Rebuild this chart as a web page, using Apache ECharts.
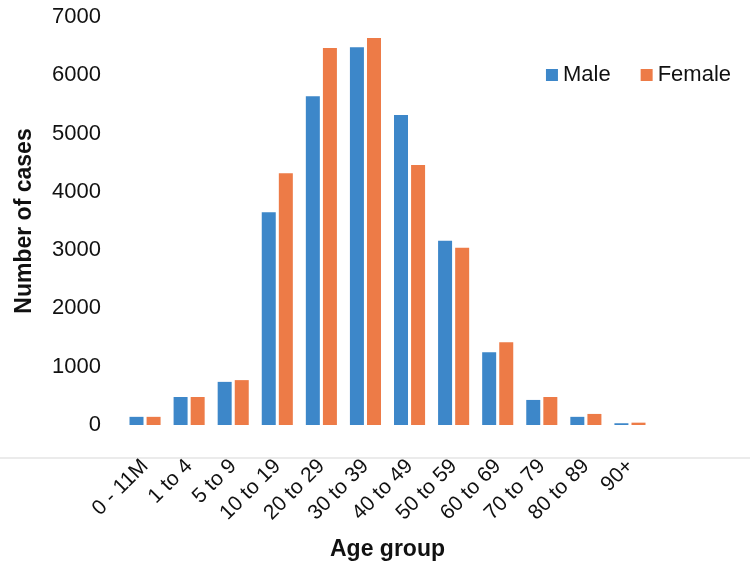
<!DOCTYPE html>
<html>
<head>
<meta charset="utf-8">
<script src="https://cdn.jsdelivr.net/npm/echarts@6/dist/echarts.min.js"></script>
<style>
html,body{margin:0;padding:0;background:#fff;}
#chart{width:750px;height:566px;}
</style>
</head>
<body>
<div id="chart"></div>
<script>
const categories = ["0 - 11M", "1 to 4", "5 to 9", "10 to 19", "20 to 29", "30 to 39", "40 to 49", "50 to 59", "60 to 69", "70 to 79", "80 to 89", "90+"];
const maleValues = [140, 480, 740, 3650, 5640, 6480, 5320, 3160, 1250, 430, 140, 30];
const femaleValues = [140, 480, 770, 4320, 6470, 6640, 4460, 3040, 1420, 480, 190, 40];
const yTicks = [0, 1000, 2000, 3000, 4000, 5000, 6000, 7000];

const font = "Liberation Sans, Arial, sans-serif";
const chart = echarts.init(document.getElementById('chart'));
chart.setOption({
  animation: false,
  textStyle: { fontFamily: font },
  grid: { left: 123, right: 98, top: 17, bottom: 141 },
  legend: {
    right: 14, top: 59,
    itemWidth: 12, itemHeight: 12, itemGap: 30,
    icon: 'rect',
    textStyle: { fontSize: 22, color: '#111', fontFamily: font },
    data: ['Male', 'Female']
  },
  graphic: [{
    type: 'line', silent: true,
    shape: { x1: 0, y1: 458, x2: 750, y2: 458 },
    style: { stroke: '#e4e4e4', lineWidth: 1.5 }
  }],
  xAxis: {
    type: 'category',
    data: categories,
    axisLine: { show: false },
    axisTick: { show: false },
    axisLabel: { rotate: 45, fontSize: 21, color: '#111', margin: 38, interval: 0, fontFamily: font },
    name: 'Age group',
    nameLocation: 'middle',
    nameGap: 113,
    nameTextStyle: { fontSize: 23, fontWeight: 'bold', color: '#111', fontFamily: font }
  },
  yAxis: {
    type: 'value',
    min: yTicks[0], max: yTicks[yTicks.length - 1], interval: 1000,
    axisLine: { show: false },
    axisTick: { show: false },
    splitLine: { show: false },
    axisLabel: { fontSize: 22, color: '#111', margin: 22, fontFamily: font, formatter: function (v) { return String(v); } },
    name: 'Number of cases',
    nameLocation: 'middle',
    nameGap: 87,
    nameTextStyle: { fontSize: 23, fontWeight: 'bold', color: '#111', fontFamily: font }
  },
  series: [
    { name: 'Male', type: 'bar', data: maleValues, barWidth: 14, barGap: '22%', itemStyle: { color: '#3d87c9' } },
    { name: 'Female', type: 'bar', data: femaleValues, barWidth: 14, itemStyle: { color: '#ed7b47' } }
  ]
});
</script>
</body>
</html>
